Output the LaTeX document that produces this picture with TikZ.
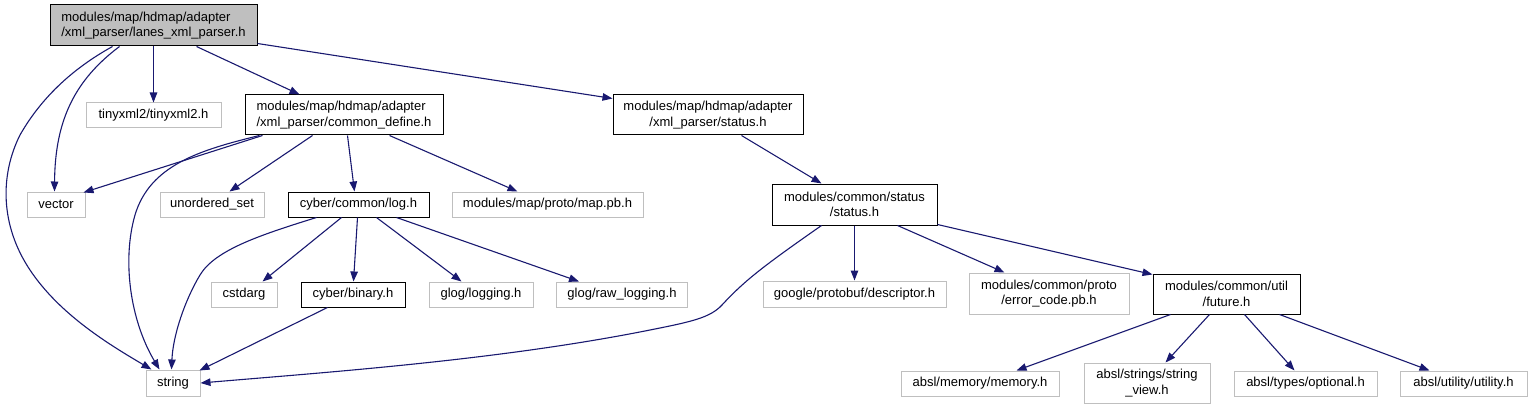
\documentclass[tikz,border=0pt]{standalone}
\usepackage{fontspec}
\setmainfont{Liberation Sans}
\usetikzlibrary{arrows.meta,calc}
\definecolor{edgeblue}{HTML}{191970}
\definecolor{greyb}{HTML}{BFBFBF}
\begin{document}
\begin{tikzpicture}[x=1pt,y=-1pt,
  box/.style={rectangle, inner sep=0pt, font=\fontsize{13}{15.5}\selectfont, line width=1pt, fill=white, align=center},
  ext/.style={box, draw=greyb},
  doc/.style={box, draw=black},
  rootbox/.style={box, draw=black, fill=greyb},
  dep/.style={draw=edgeblue, line width=1.1pt, -{Triangle[length=10pt,width=7.5pt]}},
]
\useasboundingbox[fill=white] (0,0) rectangle (1533,409);

% nodes
\node[rootbox, align=left, minimum width=207pt, minimum height=41pt] (root) at (153.5,25.5) {modules/map/hdmap/adapter\\/xml\_parser/lanes\_xml\_parser.h};
\node[ext, minimum width=135pt, minimum height=25pt] (tiny) at (153.5,115.5) {tinyxml2/tinyxml2.h};
\node[doc, align=left, minimum width=198pt, minimum height=40pt] (cdef) at (344,115) {modules/map/hdmap/adapter\\/xml\_parser/common\_define.h};
\node[doc, minimum width=190pt, minimum height=40pt] (sth) at (708,115) {modules/map/hdmap/adapter\\/xml\_parser/status.h};

\node[ext, minimum width=58pt, minimum height=25pt] (vec) at (56,204.5) {vector};
\node[ext, minimum width=104pt, minimum height=25pt] (uset) at (212,204.5) {unordered\_set};
\node[doc, minimum width=141pt, minimum height=25pt] (logh) at (358.5,204.5) {cyber/common/log.h};
\node[ext, minimum width=191pt, minimum height=25pt] (mappb) at (547.5,204.5) {modules/map/proto/map.pb.h};
\node[doc, minimum width=165pt, minimum height=41pt] (cst) at (854.5,204.5) {modules/common/status\\/status.h};

\node[ext, minimum width=66pt, minimum height=25pt] (cstdarg) at (244,294.5) {cstdarg};
\node[doc, minimum width=104pt, minimum height=25pt] (bin) at (353,294.5) {cyber/binary.h};
\node[ext, minimum width=104pt, minimum height=25pt] (glog) at (481,294.5) {glog/logging.h};
\node[ext, minimum width=131pt, minimum height=25pt] (rawlog) at (622,294.5) {glog/raw\_logging.h};
\node[ext, minimum width=183pt, minimum height=26pt] (desc) at (854.5,294) {google/protobuf/descriptor.h};
\node[ext, minimum width=160pt, minimum height=41pt] (ecode) at (1049,293.5) {modules/common/proto\\/error\_code.pb.h};
\node[doc, minimum width=147pt, minimum height=40pt] (fut) at (1226.5,294) {modules/common/util\\/future.h};

\node[ext, minimum width=54pt, minimum height=26pt] (str) at (173,383) {string};
\node[ext, minimum width=158pt, minimum height=25pt] (mem) at (980,383.5) {absl/memory/memory.h};
\node[ext, minimum width=126pt, minimum height=40pt] (sv) at (1147,383) {absl/strings/string\\\_view.h};
\node[ext, minimum width=143pt, minimum height=25pt] (opt) at (1305.5,383.5) {absl/types/optional.h};
\node[ext, minimum width=127pt, minimum height=25pt] (util) at (1463.5,383.5) {absl/utility/utility.h};

% edges from root
\draw[dep] ($(root.south west)+(63,0)$) .. controls (70,70) and (40,100) .. (20,135) .. controls (0,175) and (0,225) .. (30,270) .. controls (60,315) and (110,345) .. ($(str.north west)+(6,0)$);
\draw[dep] ($(root.south west)+(70,0)$) .. controls (75,80) and (55,120) .. ($(vec.north west)+(28,0)$);
\draw[dep] (root.south) -- (tiny.north);
\draw[dep] ($(root.south west)+(147,0)$) -- ($(cdef.north west)+(55,0)$);
\draw[dep] ($(root.south east)+(0,-3)$) -- ($(sth.north west)+(0,4)$);

% edges from common_define
\draw[dep] ($(cdef.south west)+(18,0)$) -- ($(vec.north east)+(-2,1)$);
\draw[dep] ($(cdef.south west)+(15,0)$) .. controls (200,150) and (150,165) .. (135,215) .. controls (122,260) and (130,320) .. ($(str.north west)+(14,0)$);
\draw[dep] ($(cdef.south west)+(68,0)$) -- ($(uset.north west)+(70,0)$);
\draw[dep] ($(cdef.south west)+(103,0)$) -- ($(logh.north west)+(67,0)$);
\draw[dep] ($(cdef.south west)+(145,0)$) -- ($(mappb.north west)+(66,0)$);

% status_h
\draw[dep] ($(sth.south west)+(129,0)$) -- ($(cst.north west)+(50,0)$);

% log.h
\draw[dep] ($(logh.south west)+(29,0)$) .. controls (260,235) and (215,250) .. (200,275) .. controls (185,300) and (173,335) .. ($(str.north west)+(26,0)$);
\draw[dep] ($(logh.south west)+(54,0)$) -- ($(cstdarg.north west)+(52,0)$);
\draw[dep] ($(logh.south west)+(70,0)$) -- ($(bin.north west)+(53,0)$);
\draw[dep] ($(logh.south west)+(89,0)$) -- ($(glog.north west)+(33,0)$);
\draw[dep] ($(logh.south west)+(109,0)$) -- ($(rawlog.north west)+(23,0)$);

% binary
\draw[dep] ($(bin.south west)+(27,0)$) -- ($(str.north east)+(-1,1)$);

% common/status
\draw[dep] ($(cst.south west)+(50,0)$) .. controls (765,265) and (745,280) .. (722,305) .. controls (710,318) and (690,322) .. (650,330) .. controls (500,360) and (330,372) .. (str.east);
\draw[dep] (cst.south) -- (desc.north);
\draw[dep] ($(cst.south west)+(126,0)$) -- ($(ecode.north west)+(36,0)$);
\draw[dep] ($(cst.south east)+(0,-1)$) -- ($(fut.north west)+(0,1)$);

% future
\draw[dep] ($(fut.south west)+(18,0)$) -- ($(mem.north west)+(116,0)$);
\draw[dep] ($(fut.south west)+(57,0)$) -- ($(sv.north west)+(82,0)$);
\draw[dep] ($(fut.south west)+(92,0)$) -- ($(opt.north west)+(61,0)$);
\draw[dep] ($(fut.south west)+(127,0)$) -- ($(util.north west)+(30,0)$);
\end{tikzpicture}
\end{document}
